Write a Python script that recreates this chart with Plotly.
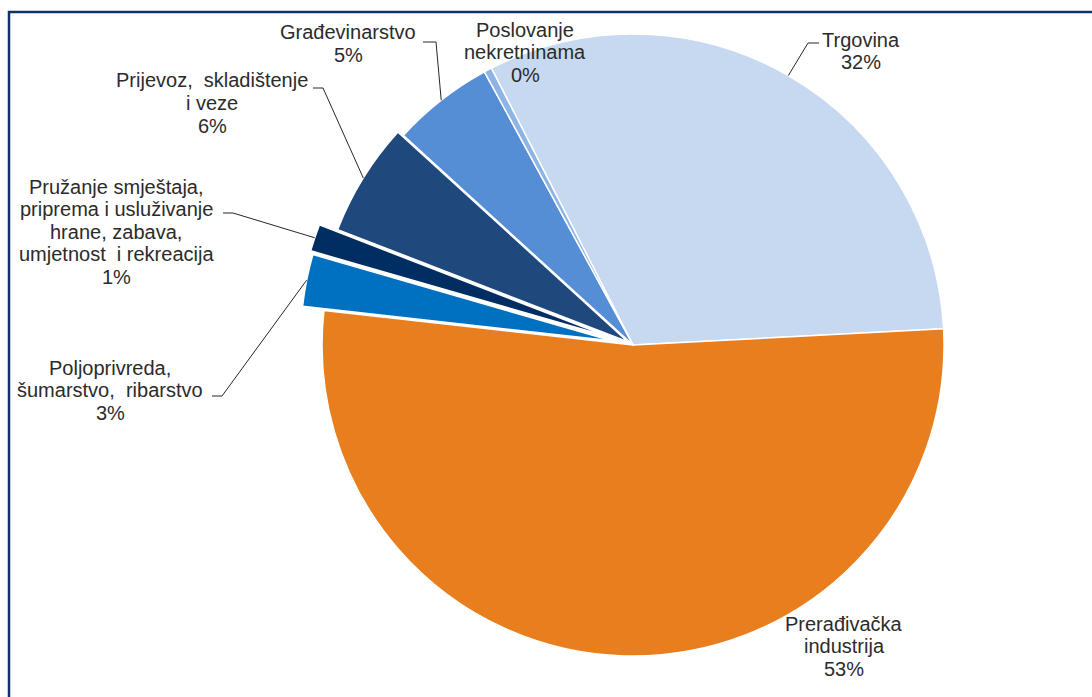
import math
import plotly.graph_objects as go

# Share of each sector (%), in clockwise order starting with Trgovina
categories = [
    "Trgovina",
    "Prerađivačka industrija",
    "Poljoprivreda, šumarstvo, ribarstvo",
    "Pružanje smještaja, priprema i usluživanje hrane, zabava, umjetnost i rekreacija",
    "Prijevoz, skladištenje i veze",
    "Građevinarstvo",
    "Poslovanje nekretninama",
]
shares = [31.7, 52.6, 2.7, 1.4, 5.9, 5.3, 0.4]

# Text lines of each data label (percentage line is added from the data)
label_lines = [
    ["Trgovina"],
    ["Prerađivačka", "industrija"],
    ["Poljoprivreda,", "šumarstvo,\u00a0 ribarstvo"],
    ["Pružanje smještaja,", "priprema i usluživanje", "hrane, zabava,", "umjetnost\u00a0 i rekreacija"],
    ["Prijevoz,\u00a0 skladištenje", "i veze"],
    ["Građevinarstvo"],
    ["Poslovanje", "nekretninama"],
]

# Styling
colors = ["#C6D9F1", "#E87E1E", "#0070C0", "#002D62", "#1F497D", "#558ED5", "#8DB4E2"]
pulls = [0, 0, 0.07, 0.08, 0.02, 0, 0]
ROTATION = -27.1

W, H = 1092, 697
DOM_X = [0.2592, 0.9002]
DOM_Y = [0.0231, 0.9869]

# Label block centres and leader elbows (pixels)
label_pos = [
    (861, 51), (844, 646), (110, 390), (116, 232), (212, 103), (348, 43.5), (525, 52),
]
leader_elbows = [
    [(808, 43), (819, 43)],
    None,
    [(222, 396), (212, 396)],
    [(233, 213), (223, 213)],
    [(323, 88), (313, 88)],
    [(436, 42), (423, 42)],
    None,
]
LINE_GAP = 22.5
FONT = dict(family="Liberation Sans, Arial, sans-serif", size=20, color="#2B2B2B")

fig = go.Figure(
    go.Pie(
        labels=categories,
        values=shares,
        sort=False,
        direction="clockwise",
        rotation=ROTATION,
        pull=pulls,
        marker=dict(colors=colors, line=dict(color="white", width=1.5)),
        textinfo="none",
        hoverinfo="label+percent",
        domain=dict(x=DOM_X, y=DOM_Y),
        showlegend=False,
    )
)

# Pie geometry (mirrors plotly's own sizing rule)
box_w = W * (DOM_X[1] - DOM_X[0])
box_h = H * (DOM_Y[1] - DOM_Y[0])
radius = min(box_w, box_h) / (2 + 2 * max(pulls))
cx = W * (DOM_X[0] + DOM_X[1]) / 2
cy = H * (1 - DOM_Y[0]) - box_h / 2


def px(x):
    return x / W


def py(y):
    return 1 - y / H


total = sum(shares)
annotations = []
shapes = []
cum = 0.0
for i, v in enumerate(shares):
    mid = ROTATION + (cum + v / 2) / total * 360.0
    cum += v
    a = math.radians(mid)
    rr = radius * (1 + pulls[i])
    ax, ay = cx + rr * math.sin(a), cy - rr * math.cos(a)

    lines = label_lines[i] + [f"{round(100 * v / total)}%"]
    bx, by = label_pos[i]
    n = len(lines)
    for k, txt in enumerate(lines):
        yy = by + (k - (n - 1) / 2) * LINE_GAP
        annotations.append(dict(
            x=px(bx), y=py(yy), xref="paper", yref="paper",
            text=txt, showarrow=False, xanchor="center", yanchor="middle",
            font=FONT,
        ))

    if leader_elbows[i]:
        pts = [(ax, ay)] + leader_elbows[i]
        path = "M " + " L ".join(f"{px(x):.5f},{py(y):.5f}" for x, y in pts)
        shapes.append(dict(type="path", path=path, xref="paper", yref="paper",
                           line=dict(color="#262626", width=1)))

# Chart frame
shapes.append(dict(type="rect", xref="paper", yref="paper",
                   x0=px(9), y0=py(H + 10), x1=px(W + 10), y1=py(12),
                   line=dict(color="#13306A", width=2.5), fillcolor="rgba(0,0,0,0)"))

fig.update_layout(
    width=W, height=H,
    margin=dict(l=0, r=0, t=0, b=0),
    paper_bgcolor="white",
    plot_bgcolor="white",
    annotations=annotations,
    shapes=shapes,
)

fig.write_html("out.html")
